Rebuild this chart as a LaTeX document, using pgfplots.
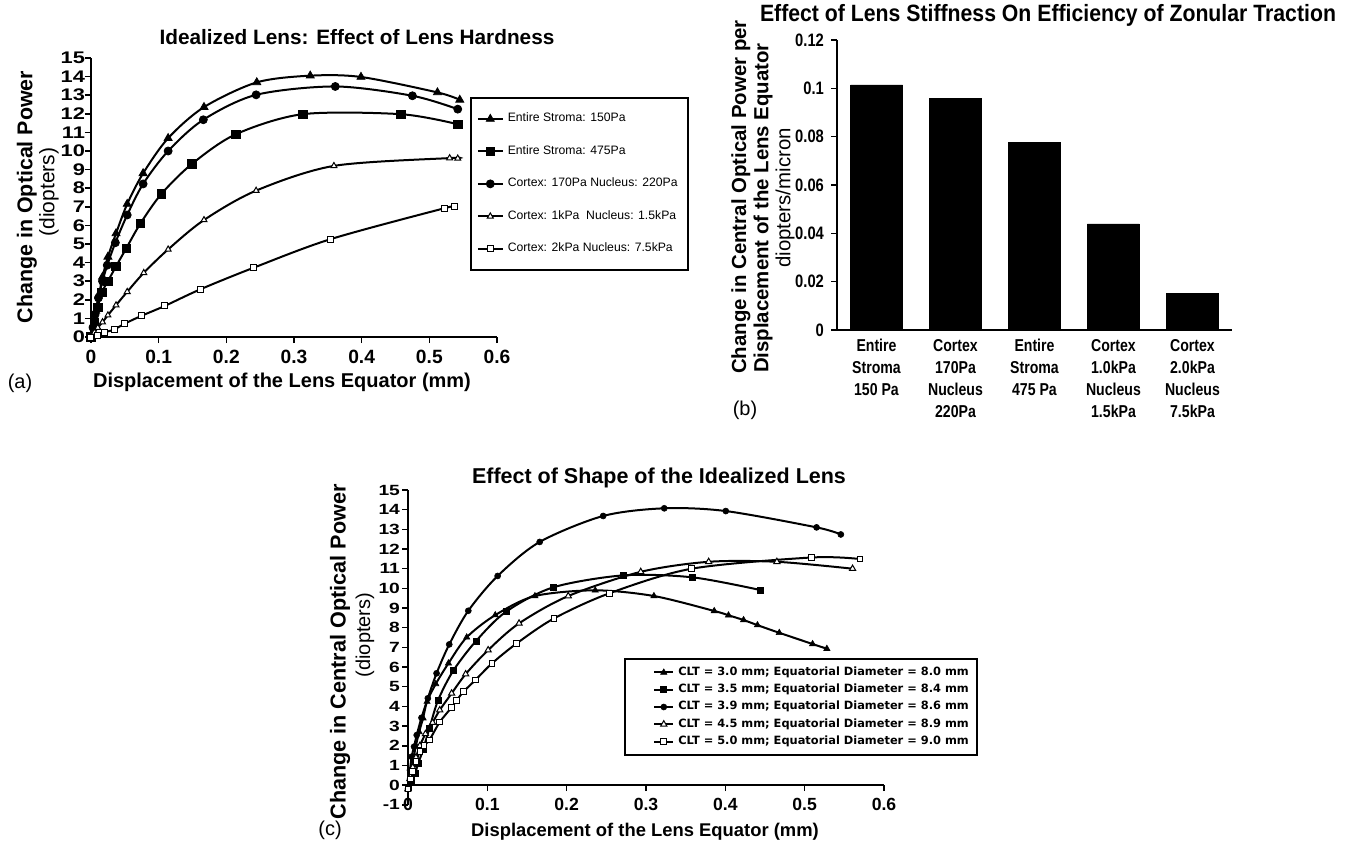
\documentclass[border=0pt]{standalone}
\usepackage{fontspec}
\usepackage{graphicx}
\setmainfont{Liberation Sans}
\newfontfamily\condfont[FakeStretch=0.82]{Liberation Sans}
\newfontfamily\condtitle[FakeStretch=0.9]{Liberation Sans}
\newfontfamily\dvfont{DejaVu Sans}
\usepackage{pgfplots}
\pgfplotsset{compat=1.18}
\begin{document}
\begin{tikzpicture}
\useasboundingbox (0,0) rectangle (675.5pt,-426pt);
% ---------------- (a) ----------------
\begin{axis}[
  at={(45.5pt,-168.5pt)}, anchor=south west, scale only axis,
  width=203pt, height=139.5pt,
  xmin=0, xmax=0.6, ymin=0, ymax=15,
  xtick={0,0.1,0.2,0.3,0.4,0.5,0.6}, ytick={0,1,...,15},
  axis lines*=left, axis line style={line width=1pt},
  tick align=outside, major tick length=3pt, tick style={line width=0.8pt, black},
  x tick label style={font=\bfseries\fontsize{9.6}{10}\selectfont},
  yticklabel={\scalebox{1.3}[1]{\pgfmathprintnumber{\tick}}},
  y tick label style={font=\bfseries\fontsize{8.4}{9}\selectfont, xshift=3.5pt},
  /pgf/number format/assume math mode=true,
  clip=false,
  legend style={at={(0.933,0.860)}, anchor=north west, draw=black, line width=1pt,
    font=\fontsize{6.1}{7.3}\selectfont, row sep=6.3pt, inner xsep=3pt, inner ysep=5.5pt,
    cells={anchor=west}},
  legend image code/.code={\draw[mark repeat=2,mark phase=2,#1] plot coordinates {(0pt,0pt) (6.25pt,0pt) (12.5pt,0pt)};},
]
\addplot[black, line width=1pt, smooth, tension=0.5, mark=triangle*, mark size=2.3pt, mark options={solid, line width=0.4pt}]
 coordinates {(0,0) (0.0035,0.7) (0.007,1.4) (0.012,2.3) (0.017,3.23) (0.025,4.31) (0.037,5.57) (0.0535,7.15) (0.077,8.8) (0.114,10.69) (0.167,12.36) (0.245,13.69) (0.324,14.05) (0.399,13.98) (0.512,13.15) (0.545,12.75)};
\addplot[black, line width=1pt, smooth, tension=0.5, mark=square*, mark size=2.1pt, mark options={solid, line width=0.4pt}]
 coordinates {(0,0) (0.005,0.8) (0.01,1.6) (0.016,2.4) (0.025,3.0) (0.037,3.8) (0.052,4.76) (0.073,6.1) (0.104,7.69) (0.149,9.3) (0.214,10.9) (0.313,11.98) (0.458,11.98) (0.542,11.44)};
\addplot[black, line width=1pt, smooth, tension=0.5, mark=*, mark size=2pt, mark options={solid, line width=0.4pt}]
 coordinates {(0,0) (0.003,0.5) (0.006,1.2) (0.011,2.1) (0.017,3.0) (0.024,3.86) (0.036,5.07) (0.0535,6.56) (0.077,8.23) (0.114,10.0) (0.166,11.68) (0.244,13.02) (0.361,13.47) (0.475,12.97) (0.542,12.25)};
\addplot[black, line width=1pt, smooth, tension=0.5, mark=triangle*, mark size=1.7pt, mark options={solid, fill=white, line width=0.5pt}]
 coordinates {(0,0) (0.005,0.25) (0.01,0.5) (0.017,0.8) (0.025,1.17) (0.037,1.71) (0.0535,2.43) (0.078,3.45) (0.114,4.71) (0.167,6.29) (0.244,7.87) (0.359,9.2) (0.530,9.62) (0.542,9.6)};
\addplot[black, line width=1pt, smooth, tension=0.5, mark=square*, mark size=1.5pt, mark options={solid, fill=white, line width=0.5pt}]
 coordinates {(0,0) (0.01,0.1) (0.02,0.25) (0.034,0.4) (0.050,0.72) (0.074,1.13) (0.109,1.67) (0.162,2.57) (0.240,3.72) (0.354,5.26) (0.522,6.92) (0.537,7.0)};
\legend{Entire Stroma: 150Pa, Entire Stroma: 475Pa, Cortex: 170Pa Nucleus: 220Pa, Cortex: 1kPa\ \ Nucleus: 1.5kPa, Cortex: 2kPa Nucleus: 7.5kPa}
\end{axis}
% ---------------- (b) ----------------
\begin{axis}[
  at={(418.5pt,-165pt)}, anchor=south west, scale only axis,
  width=197.5pt, height=145pt,
  ybar, bar width=26pt, xmin=-0.5, xmax=4.5, ymin=0, ymax=0.12,
  xtick={0,1,2,3,4},
  xticklabels={{Entire\\Stroma\\150 Pa},{Cortex\\170Pa\\Nucleus\\220Pa},{Entire\\Stroma\\475 Pa},{Cortex\\1.0kPa\\Nucleus\\1.5kPa},{Cortex\\2.0kPa\\Nucleus\\7.5kPa}},
  ytick={0,0.02,0.04,0.06,0.08,0.1,0.12},
  yticklabel style={/pgf/number format/fixed, /pgf/number format/precision=2},
  axis x line*=bottom, axis y line*=left, axis line style={line width=0.8pt},
  tick align=outside, major tick length=3pt, tick style={line width=0.8pt, black},
  xtick style={draw=none},
  x tick label style={align=center, font=\condfont\bfseries\fontsize{8.6}{11}\selectfont, yshift=2pt},
  y tick label style={font=\condfont\bfseries\fontsize{9}{10}\selectfont},
  /pgf/number format/assume math mode=true,
]
\addplot[fill=black, draw=black] coordinates {(0,0.1014) (1,0.0957) (2,0.0777) (3,0.0439) (4,0.0152)};
\end{axis}
% ---------------- (c) ----------------
\begin{axis}[
  at={(204pt,-402.35pt)}, anchor=south west, scale only axis,
  width=238pt, height=157.35pt,
  xmin=0, xmax=0.6, ymin=-1, ymax=15,
  xtick={0,0.1,0.2,0.3,0.4,0.5,0.6}, ytick={-1,0,1,...,15},
  axis x line*=middle, axis y line*=left, axis line style={line width=1pt},
  hide obscured x ticks=false, hide obscured y ticks=false,
  tick align=outside, major tick length=3pt, tick style={line width=0.8pt, black},
  x tick label style={font=\bfseries\fontsize{8.8}{10}\selectfont},
  yticklabel={\scalebox{1.3}[1]{\pgfmathprintnumber{\tick}}},
  y tick label style={font=\bfseries\fontsize{7.4}{8}\selectfont, xshift=2.5pt},
  /pgf/number format/assume math mode=true,
  clip=false,
  legend style={at={(1.197,0.466)}, anchor=north east, draw=black, line width=1pt,
    font=\dvfont\bfseries\fontsize{5.7}{6.5}\selectfont, row sep=1.6pt, inner xsep=2pt, inner ysep=3.2pt,
    nodes={inner ysep=0.6pt}, cells={anchor=west}},
  legend image code/.code={\path (-12pt,0pt); \draw[mark repeat=2,mark phase=2,#1] plot coordinates {(0pt,0pt) (4.75pt,0pt) (9.5pt,0pt)};},
]
\addplot[black, line width=1pt, smooth, tension=0.5, mark=triangle*, mark size=1.8pt, mark options={solid, line width=0.3pt}]
 coordinates {(0,-0.2) (0.002,0.3) (0.004,0.8) (0.007,1.4) (0.010,2.0) (0.014,2.7) (0.019,3.4) (0.024,4.24) (0.035,5.14) (0.051,6.19) (0.074,7.51) (0.110,8.64) (0.160,9.61) (0.236,9.9) (0.310,9.61) (0.386,8.85) (0.404,8.63) (0.423,8.39) (0.4405,8.13) (0.468,7.74) (0.510,7.17) (0.528,6.93)};
\addplot[black, line width=1pt, smooth, tension=0.5, mark=square*, mark size=1.5pt, mark options={solid, line width=0.3pt}]
 coordinates {(0,-0.1) (0.0046,0.25) (0.0088,0.59) (0.013,1.1) (0.019,1.81) (0.027,2.88) (0.038,4.32) (0.057,5.81) (0.0857,7.32) (0.1235,8.81) (0.183,10.05) (0.2716,10.66) (0.3586,10.56) (0.4447,9.91)};
\addplot[black, line width=1pt, smooth, tension=0.5, mark=*, mark size=1.5pt, mark options={solid, line width=0.3pt}]
 coordinates {(0,-0.2) (0.0025,0.76) (0.0046,1.44) (0.0076,1.95) (0.011,2.54) (0.017,3.42) (0.025,4.41) (0.036,5.68) (0.052,7.15) (0.076,8.86) (0.113,10.63) (0.166,12.36) (0.246,13.68) (0.323,14.07) (0.4006,13.93) (0.515,13.1) (0.5456,12.74)};
\addplot[black, line width=1pt, smooth, tension=0.5, mark=triangle*, mark size=1.8pt, mark options={solid, fill=white, line width=0.5pt}]
 coordinates {(0,-0.2) (0.003,0.4) (0.006,0.9) (0.010,1.4) (0.015,2.0) (0.022,2.6) (0.031,3.17) (0.040,3.81) (0.055,4.66) (0.0727,5.64) (0.101,6.86) (0.140,8.22) (0.202,9.61) (0.2934,10.84) (0.379,11.35) (0.465,11.35) (0.5604,11.0)};
\addplot[black, line width=1pt, smooth, tension=0.5, mark=square*, mark size=1.4pt, mark options={solid, fill=white, line width=0.5pt}]
 coordinates {(0,-0.2) (0.003,0.3) (0.006,0.7) (0.010,1.2) (0.015,1.7) (0.020,2.0) (0.027,2.29) (0.040,3.2) (0.055,3.95) (0.061,4.29) (0.070,4.75) (0.085,5.34) (0.106,6.19) (0.137,7.2) (0.184,8.47) (0.254,9.75) (0.3577,11.0) (0.509,11.57) (0.570,11.49)};
\legend{CLT = 3.0 mm; Equatorial Diameter = 8.0 mm, CLT = 3.5 mm; Equatorial Diameter = 8.4 mm, CLT = 3.9 mm; Equatorial Diameter = 8.6 mm, CLT = 4.5 mm; Equatorial Diameter = 8.9 mm, CLT = 5.0 mm; Equatorial Diameter = 9.0 mm}
\end{axis}
% ---------------- labels ----------------
\node[font=\bfseries\fontsize{10.7}{12}\selectfont] at (0,0) {};
\node[font=\bfseries\fontsize{10.4}{12}\selectfont] at (178.5pt,-18.5pt) {Idealized Lens: Effect of Lens Hardness};
\node[rotate=90, font=\bfseries\fontsize{10.7}{12}\selectfont] at (13.5pt,-98.5pt) {Change in Optical Power};
\node[rotate=90, font=\fontsize{10.5}{12}\selectfont] at (24.5pt,-96pt) {(diopters)};
\node[font=\bfseries\fontsize{10}{12}\selectfont] at (141pt,-191pt) {Displacement of the Lens Equator (mm)};
\node[font=\fontsize{10}{12}\selectfont] at (10pt,-191.5pt) {(a)};
\node[font=\condtitle\bfseries\fontsize{11.8}{13}\selectfont] at (524pt,-7.5pt) {Effect of Lens Stiffness On Efficiency of Zonular Traction};
\node[rotate=90, font=\bfseries\fontsize{10.2}{12}\selectfont] at (370.5pt,-98.5pt) {Change in Central Optical Power per};
\node[rotate=90, font=\bfseries\fontsize{10.2}{12}\selectfont] at (381.5pt,-104pt) {Displacement of the Lens Equator};
\node[rotate=90, font=\fontsize{10.2}{12}\selectfont] at (392.5pt,-99pt) {diopters/micron};
\node[font=\fontsize{10}{12}\selectfont] at (372.5pt,-205pt) {(b)};
\node[font=\bfseries\fontsize{10.75}{12}\selectfont] at (329.5pt,-239pt) {Effect of Shape of the Idealized Lens};
\node[rotate=90, font=\bfseries\fontsize{10.8}{12}\selectfont] at (170pt,-326pt) {Change in Central Optical Power};
\node[rotate=90, font=\fontsize{10}{12}\selectfont] at (182.5pt,-317.5pt) {(diopters)};
\node[font=\bfseries\fontsize{9.2}{11}\selectfont] at (322.5pt,-416pt) {Displacement of the Lens Equator (mm)};
\node[font=\fontsize{10}{12}\selectfont] at (165pt,-415pt) {(c)};
\end{tikzpicture}
\end{document}
